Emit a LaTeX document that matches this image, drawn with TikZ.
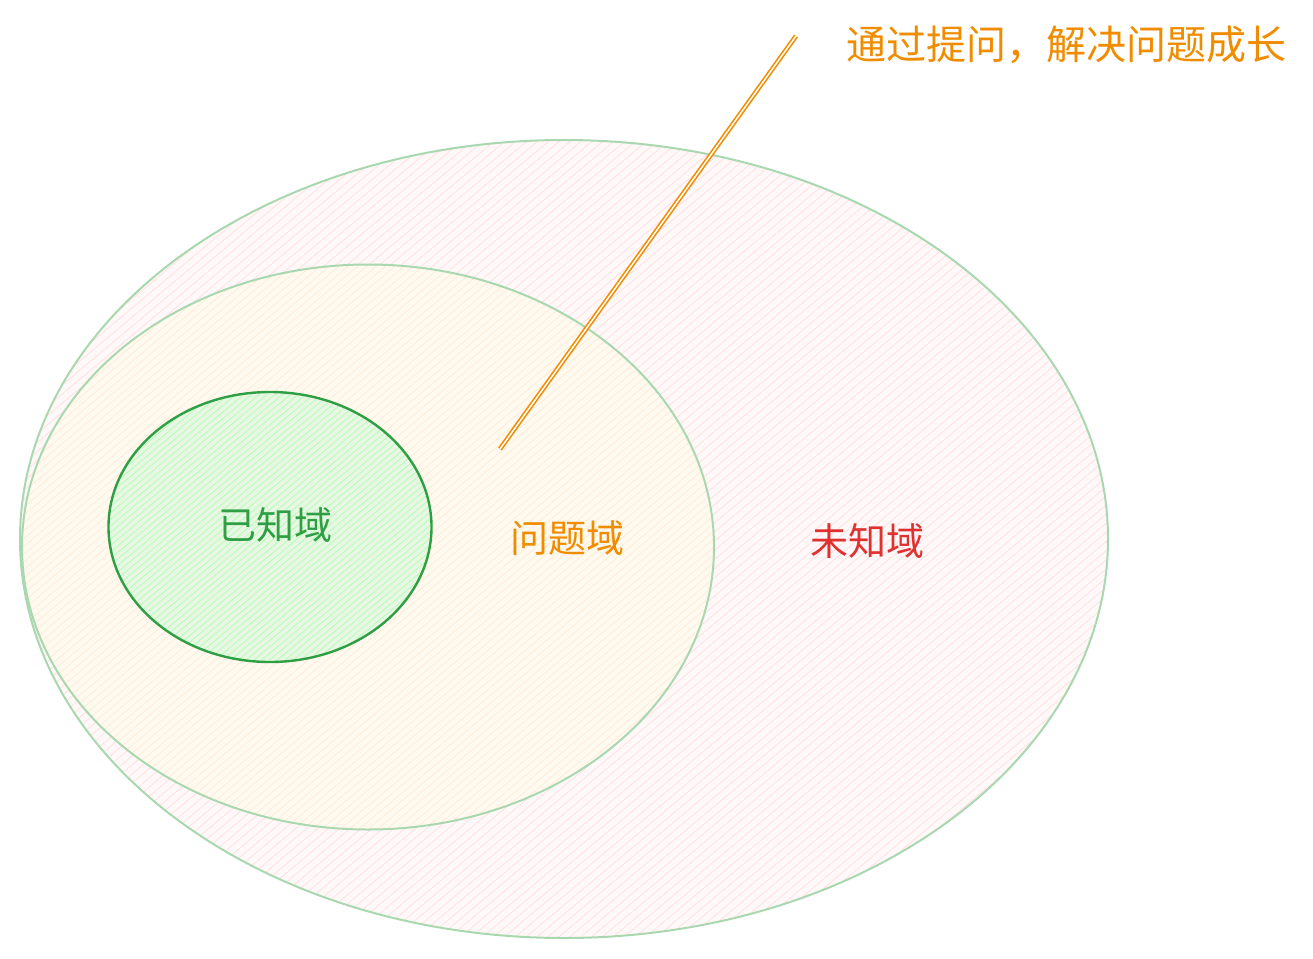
\documentclass[tikz,border=0pt]{standalone}
\usepackage{fontspec}
\newfontfamily\cjk{Noto Sans CJK SC}
\usetikzlibrary{shapes.geometric,patterns.meta}

\definecolor{rimgreen}{HTML}{A9D8B0}
\definecolor{knowngreen}{HTML}{2F9E44}
\definecolor{askorange}{HTML}{F08C00}
\definecolor{unknownred}{HTML}{E03131}
\definecolor{pinkfill}{HTML}{FFF8F8}
\definecolor{yellowfill}{HTML}{FFFAEF}
\definecolor{greenfill}{HTML}{E8F7E3}

\tikzset{
  region/.style={ellipse, draw=rimgreen, line width=2pt, inner sep=0pt},
  label/.style={font=\cjk\fontsize{38}{44}\selectfont},
}

\begin{document}
\begin{tikzpicture}[x=1pt, y=-1pt]
    \useasboundingbox (0,0) rectangle (1313,958);

    % the three domains
    \node[region, fill=pinkfill, preaction={fill=pinkfill},
          pattern={Lines[angle=40, distance=7pt, line width=0.8pt]}, pattern color=red!12,
          minimum width=1088pt, minimum height=798pt] (unknown) at (564,539) {};
    \node[region, fill=yellowfill, preaction={fill=yellowfill},
          pattern={Lines[angle=40, distance=6pt, line width=0.8pt]}, pattern color=orange!16,
          minimum width=692pt, minimum height=565pt] (problem) at (368,547) {};
    \node[region, draw=knowngreen, line width=2.4pt, fill=greenfill, preaction={fill=greenfill},
          pattern={Lines[angle=40, distance=5pt, line width=0.8pt]}, pattern color=green!30,
          minimum width=323pt, minimum height=270pt] (known) at (270,527) {};

    \node[label, text=knowngreen] (knowntext) at (275,525) {已知域};
    \node[label, text=askorange] (problemtext) at (567,538) {问题域};
    \node[label, text=unknownred] (unknowntext) at (867,541) {未知域};

    % pointer to the note
    \coordinate (tip) at (500,449);
    \coordinate (tail) at (796,36);
    \node[label, text=askorange, font=\cjk\fontsize{40}{46}\selectfont] (note) at (1066,45) {通过提问，解决问题成长};
    \draw[askorange, double=white, double distance=1.5pt, line width=1.6pt] (tip) -- (tail);
\end{tikzpicture}
\end{document}
